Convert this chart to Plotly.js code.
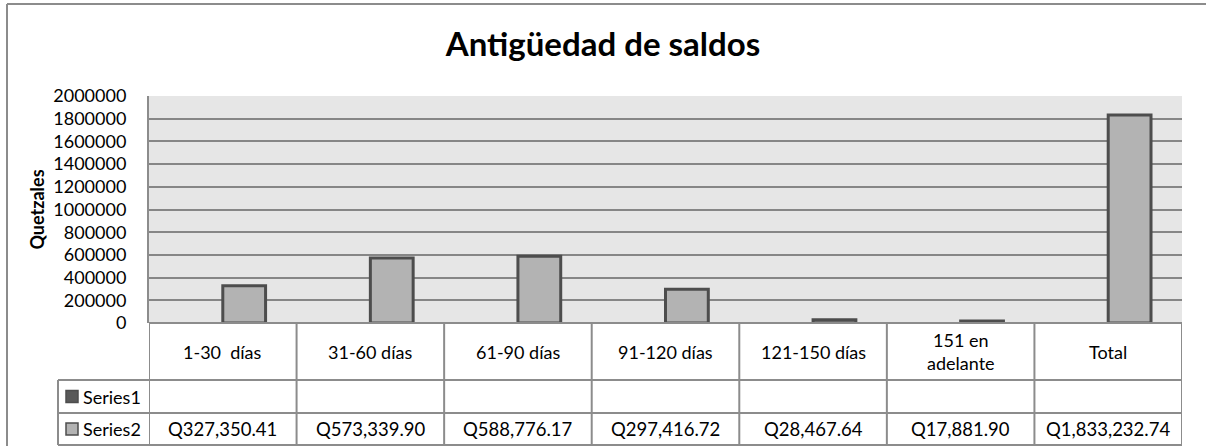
<!DOCTYPE html>
<html>
<head>
<meta charset="utf-8">
<script src="https://cdn.plot.ly/plotly-3.0.1.min.js"></script>
<style>html,body{margin:0;padding:0;background:#fff;}#chart{width:1206px;height:446px;}</style>
</head>
<body>
<div id="chart"></div>
<script>
// ---- data ----
var categories = ["1-30  días", "31-60 días", "61-90 días", "91-120 días", "121-150 días", "151 en<br>adelante", "Total"];
var seriesNames = ["Series1", "Series2"];
var series1 = [null, null, null, null, null, null, null];
var series2 = [327350.41, 573339.90, 588776.17, 297416.72, 28467.64, 17881.90, 1833232.74];
var yTickValues = [0, 200000, 400000, 600000, 800000, 1000000, 1200000, 1400000, 1600000, 1800000, 2000000];
var chartTitle = "Antigüedad de saldos";
var yTitle = "Quetzales";

// ---- layout geometry (pixels) ----
var W = 1206, H = 446;
var plotL = 149, plotR = 1182, plotT = 96, plotB = 323;
var plotW = plotR - plotL, plotH = plotB - plotT;
var row1B = 380, row2B = 413, row3B = 445, legendL = 58;
function py(p) { return (plotB - p) / plotH; }
function px(p) { return (p - plotL) / plotW; }

var FONT = "Lato, 'Open Sans', sans-serif";
var gridC = "#868686", lineC = "#8c8c8c";

function fmtQ(v) {
  return "Q" + v.toLocaleString("en-US", {minimumFractionDigits: 2, maximumFractionDigits: 2});
}

var traces = [
  {type: "bar", name: seriesNames[0], x: categories, y: series1, width: 0.29, offset: -0.29,
   marker: {color: "#595959", line: {color: "#4d4d4d", width: 3}}, showlegend: false},
  {type: "bar", name: seriesNames[1], x: categories, y: series2, width: 0.29, offset: 0.0,
   marker: {color: "#b3b3b3", line: {color: "#4d4d4d", width: 3}}, showlegend: false}
];

var shapes = [];
var annotations = [];
var n = categories.length;
// outer chart border (left + top)
shapes.push({type: "line", xref: "paper", yref: "paper", x0: px(7), x1: px(7), y0: py(4), y1: py(H + 5), line: {color: lineC, width: 2}});
shapes.push({type: "line", xref: "paper", yref: "paper", x0: px(7), x1: px(W + 5), y0: py(4), y1: py(4), line: {color: lineC, width: 2}});
// table vertical lines
for (var k = 0; k <= n; k++) {
  shapes.push({type: "line", xref: "x", yref: "paper", x0: k - 0.5, x1: k - 0.5, y0: py(plotB), y1: py(row3B), line: {color: lineC, width: 2}});
}
// legend column
shapes.push({type: "line", xref: "paper", yref: "paper", x0: px(legendL), x1: px(legendL), y0: py(row1B), y1: py(row3B), line: {color: lineC, width: 2}});
// horizontal lines
shapes.push({type: "line", xref: "x", yref: "paper", x0: -0.5, x1: n - 0.5, y0: 0, y1: 0, line: {color: lineC, width: 2}});
[row1B, row2B, row3B].forEach(function (r) {
  shapes.push({type: "line", xref: "paper", yref: "paper", x0: px(legendL), x1: 1, y0: py(r), y1: py(r), line: {color: lineC, width: 2}});
});
// legend keys
var keyColors = ["#595959", "#b3b3b3"];
var rowMid = [(row1B + row2B) / 2, (row2B + row3B) / 2];
for (var s = 0; s < 2; s++) {
  shapes.push({type: "rect", xref: "paper", yref: "paper", x0: px(66), x1: px(78), y0: py(rowMid[s] - 6), y1: py(rowMid[s] + 6),
    fillcolor: keyColors[s], line: {color: "#4d4d4d", width: 1.5}});
  annotations.push({xref: "paper", yref: "paper", x: px(81), y: py(rowMid[s]), xanchor: "left", yanchor: "middle",
    text: seriesNames[s], showarrow: false, font: {family: FONT, size: 18, color: "#000"}});
}
// header labels and values
for (var i = 0; i < n; i++) {
  annotations.push({xref: "x", yref: "paper", x: i, y: py((plotB + row1B) / 2), xanchor: "center", yanchor: "middle",
    text: categories[i], showarrow: false, font: {family: FONT, size: 18, color: "#000"}});
  if (series1[i] !== null) {
    annotations.push({xref: "x", yref: "paper", x: i, y: py(rowMid[0]), xanchor: "center", yanchor: "middle",
      text: fmtQ(series1[i]), showarrow: false, font: {family: FONT, size: 18, color: "#000"}});
  }
  annotations.push({xref: "x", yref: "paper", x: i, y: py(rowMid[1]), xanchor: "center", yanchor: "middle",
    text: fmtQ(series2[i]), showarrow: false, font: {family: FONT, size: 18.5, color: "#000"}});
}

var layout = {
  width: W, height: H,
  margin: {l: plotL, r: W - plotR, t: plotT, b: H - plotB, pad: 0},
  paper_bgcolor: "#fff", plot_bgcolor: "#e6e6e6",
  title: {text: "<b>" + chartTitle + "</b>", x: 0.5, xanchor: "center", xref: "container",
          y: 1 - 44 / H, yref: "container", yanchor: "middle",
          font: {family: FONT, size: 33, color: "#000"}},
  xaxis: {type: "category", range: [-0.5, n - 0.5], showticklabels: false, showgrid: false, zeroline: false,
          showline: false, fixedrange: true},
  yaxis: {range: [0, 2000000], tickvals: yTickValues, ticktext: yTickValues.map(String),
          showgrid: true, gridcolor: gridC, gridwidth: 2, zeroline: false,
          showline: true, linecolor: lineC, linewidth: 2,
          ticks: "outside", ticklen: 17, tickcolor: "rgba(0,0,0,0)",
          tickfont: {family: FONT, size: 18, color: "#000"},
          title: {text: "<b>" + yTitle + "</b>", font: {family: FONT, size: 18, color: "#000"}, standoff: 4}},
  barmode: "overlay",
  showlegend: false,
  shapes: shapes,
  annotations: annotations
};

Plotly.newPlot("chart", traces, layout, {displayModeBar: false, staticPlot: true});
</script>
</body>
</html>
